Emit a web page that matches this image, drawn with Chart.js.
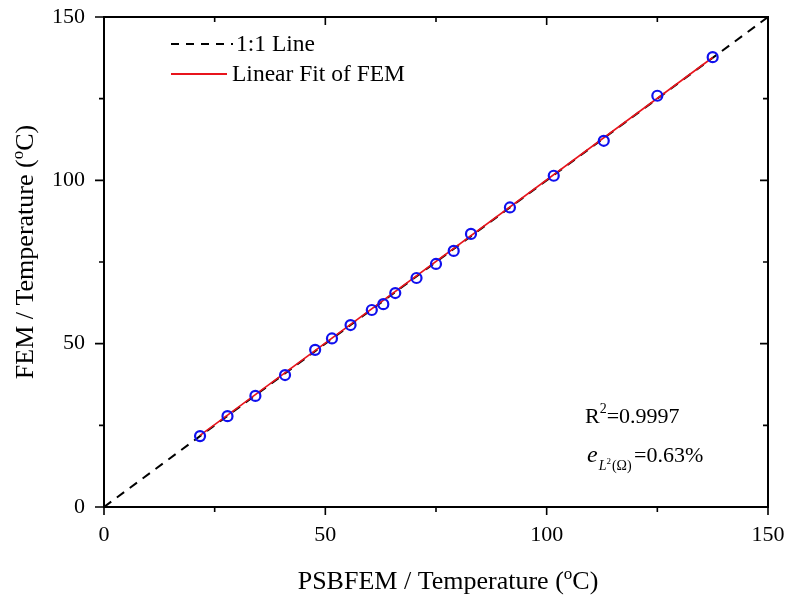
<!DOCTYPE html>
<html>
<head>
<meta charset="utf-8">
<script src="https://cdn.jsdelivr.net/npm/chart.js@4.4.0/dist/chart.umd.min.js"></script>
<style>
html,body{margin:0;padding:0;background:#fff;}
#wrap{width:791px;height:602px;}
</style>
</head>
<body>
<div id="wrap"><canvas id="c" width="791" height="602"></canvas></div>
<script>
// Data
const psbfem = [21.7, 27.9, 34.2, 40.9, 47.7, 51.5, 55.7, 60.5, 63.1, 65.8, 70.6, 75.0, 79.0, 82.9, 91.7, 101.6, 112.9, 125.0, 137.5];
const fem    = [21.7, 27.8, 34.0, 40.4, 48.1, 51.6, 55.7, 60.3, 62.1, 65.5, 70.1, 74.4, 78.4, 83.6, 91.7, 101.4, 112.1, 125.9, 137.7];
const oneToOneX = [0, 150];
const oneToOneY = [0, 150];
const fitX = [21.7, 137.5];
const fitY = [21.9, 137.6];
const majorTicks = [0, 50, 100, 150];
const minorTicks = [25, 75, 125];
const axisMin = 0, axisMax = 150;

const SERIF = '"Liberation Serif", "Times New Roman", serif';

const toPts = (xs, ys) => xs.map((x, i) => ({x: x, y: ys[i]}));

const framePlugin = {
  id: 'frame',
  afterDatasetsDraw(chart) {
    const {ctx, chartArea: a, scales: {x, y}} = chart;
    ctx.save();
    ctx.strokeStyle = '#000';
    ctx.lineWidth = 2;
    ctx.strokeRect(a.left, a.top, a.right - a.left, a.bottom - a.top);
    ctx.lineWidth = 1.6;
    ctx.beginPath();
    majorTicks.forEach(v => {
      const px = x.getPixelForValue(v);
      ctx.moveTo(px, a.bottom); ctx.lineTo(px, a.bottom + 8);
      const py = y.getPixelForValue(v);
      ctx.moveTo(a.left, py); ctx.lineTo(a.left - 9, py);
    });
    minorTicks.forEach(v => {
      const px = x.getPixelForValue(v);
      ctx.moveTo(px, a.bottom); ctx.lineTo(px, a.bottom + 5);
      ctx.moveTo(px, a.top); ctx.lineTo(px, a.top + 5);
      const py = y.getPixelForValue(v);
      ctx.moveTo(a.left, py); ctx.lineTo(a.left - 5, py);
      ctx.moveTo(a.right, py); ctx.lineTo(a.right - 5, py);
    });
    [50, 100].forEach(v => {
      const px = x.getPixelForValue(v);
      ctx.moveTo(px, a.top); ctx.lineTo(px, a.top + 8);
      const py = y.getPixelForValue(v);
      ctx.moveTo(a.right, py); ctx.lineTo(a.right - 8, py);
    });
    ctx.stroke();

    // legend
    ctx.fillStyle = '#000';
    ctx.textBaseline = 'middle';
    ctx.textAlign = 'left';
    ctx.font = '23.5px ' + SERIF;
    ctx.lineWidth = 2;
    ctx.strokeStyle = '#000';
    ctx.setLineDash([8, 7]);
    ctx.beginPath(); ctx.moveTo(171, 44); ctx.lineTo(233, 44); ctx.stroke();
    ctx.setLineDash([]);
    ctx.fillText('1:1 Line', 236, 45);
    ctx.strokeStyle = '#e8141c';
    ctx.lineWidth = 2;
    ctx.beginPath(); ctx.moveTo(171, 74); ctx.lineTo(227, 74); ctx.stroke();
    ctx.fillText('Linear Fit of FEM', 232, 75);

    // annotation
    ctx.textBaseline = 'alphabetic';
    ctx.font = '22px ' + SERIF;
    let cx = 585;
    ctx.fillText('R', cx, 423); cx += ctx.measureText('R').width;
    ctx.font = '14px ' + SERIF;
    ctx.fillText('2', cx, 413); cx += ctx.measureText('2').width;
    ctx.font = '22px ' + SERIF;
    ctx.fillText('=0.9997', cx, 423);

    cx = 587;
    ctx.font = 'italic 24px ' + SERIF;
    ctx.fillText('e', cx, 462); cx += ctx.measureText('e').width + 1;
    ctx.font = 'italic 14px ' + SERIF;
    ctx.fillText('L', cx, 470); cx += ctx.measureText('L').width;
    ctx.font = '9px ' + SERIF;
    ctx.fillText('2', cx, 464); cx += ctx.measureText('2').width + 1;
    ctx.font = '14px ' + SERIF;
    ctx.fillText('(\u03A9)', cx, 470); cx += ctx.measureText('(\u03A9)').width;
    ctx.font = '22px ' + SERIF;
    ctx.fillText('=0.63%', 634, 462);

    // axis titles
    const drawTitle = (pre, post, big, small) => {
      ctx.font = big + 'px ' + SERIF;
      const w1 = ctx.measureText(pre).width;
      const w3 = ctx.measureText(post).width;
      ctx.font = small + 'px ' + SERIF;
      const w2 = ctx.measureText('o').width;
      const total = w1 + w2 + w3;
      let sx = -total / 2;
      ctx.font = big + 'px ' + SERIF;
      ctx.fillText(pre, sx, 0); sx += w1;
      ctx.font = small + 'px ' + SERIF;
      ctx.fillText('o', sx, -10); sx += w2;
      ctx.font = big + 'px ' + SERIF;
      ctx.fillText(post, sx, 0);
    };
    ctx.save();
    ctx.translate(448, 589);
    drawTitle('PSBFEM / Temperature (', 'C)', 26, 17);
    ctx.restore();
    ctx.save();
    ctx.translate(33, 252);
    ctx.rotate(-Math.PI / 2);
    drawTitle('FEM / Temperature (', 'C)', 26, 17);
    ctx.restore();
    ctx.restore();
  }
};

new Chart(document.getElementById('c'), {
  type: 'scatter',
  data: {
    datasets: [
      {
        type: 'line', label: '1:1 Line', data: toPts(oneToOneX, oneToOneY),
        borderColor: '#000', borderWidth: 2, borderDash: [9, 7], pointRadius: 0, fill: false, order: 3
      },
      {
        type: 'line', label: 'Linear Fit of FEM', data: toPts(fitX, fitY),
        borderColor: '#e8141c', borderWidth: 1.6, pointRadius: 0, fill: false, order: 2
      },
      {
        label: 'FEM', data: toPts(psbfem, fem),
        pointRadius: 5, pointBorderWidth: 2.2, pointBorderColor: '#1010ee',
        pointBackgroundColor: 'rgba(0,0,0,0)', showLine: false, order: 1
      }
    ]
  },
  options: {
    responsive: false,
    animation: false,
    devicePixelRatio: 1,
    layout: {padding: {left: 0, right: 23, top: 17, bottom: 0}},
    plugins: {legend: {display: false}, tooltip: {enabled: false}},
    scales: {
      x: {
        type: 'linear', min: axisMin, max: axisMax,
        afterFit(s) { s.height = 95; s.paddingLeft = 0; s.paddingRight = 0; },
        grid: {display: false}, border: {display: false},
        ticks: {stepSize: 50, color: '#000', padding: 7, font: {family: SERIF, size: 22}}
      },
      y: {
        type: 'linear', min: axisMin, max: axisMax,
        afterFit(s) { s.width = 104; s.paddingTop = 0; s.paddingBottom = 0; },
        grid: {display: false}, border: {display: false},
        ticks: {stepSize: 50, color: '#000', padding: 11, font: {family: SERIF, size: 22}}
      }
    }
  },
  plugins: [framePlugin]
});
</script>
</body>
</html>
